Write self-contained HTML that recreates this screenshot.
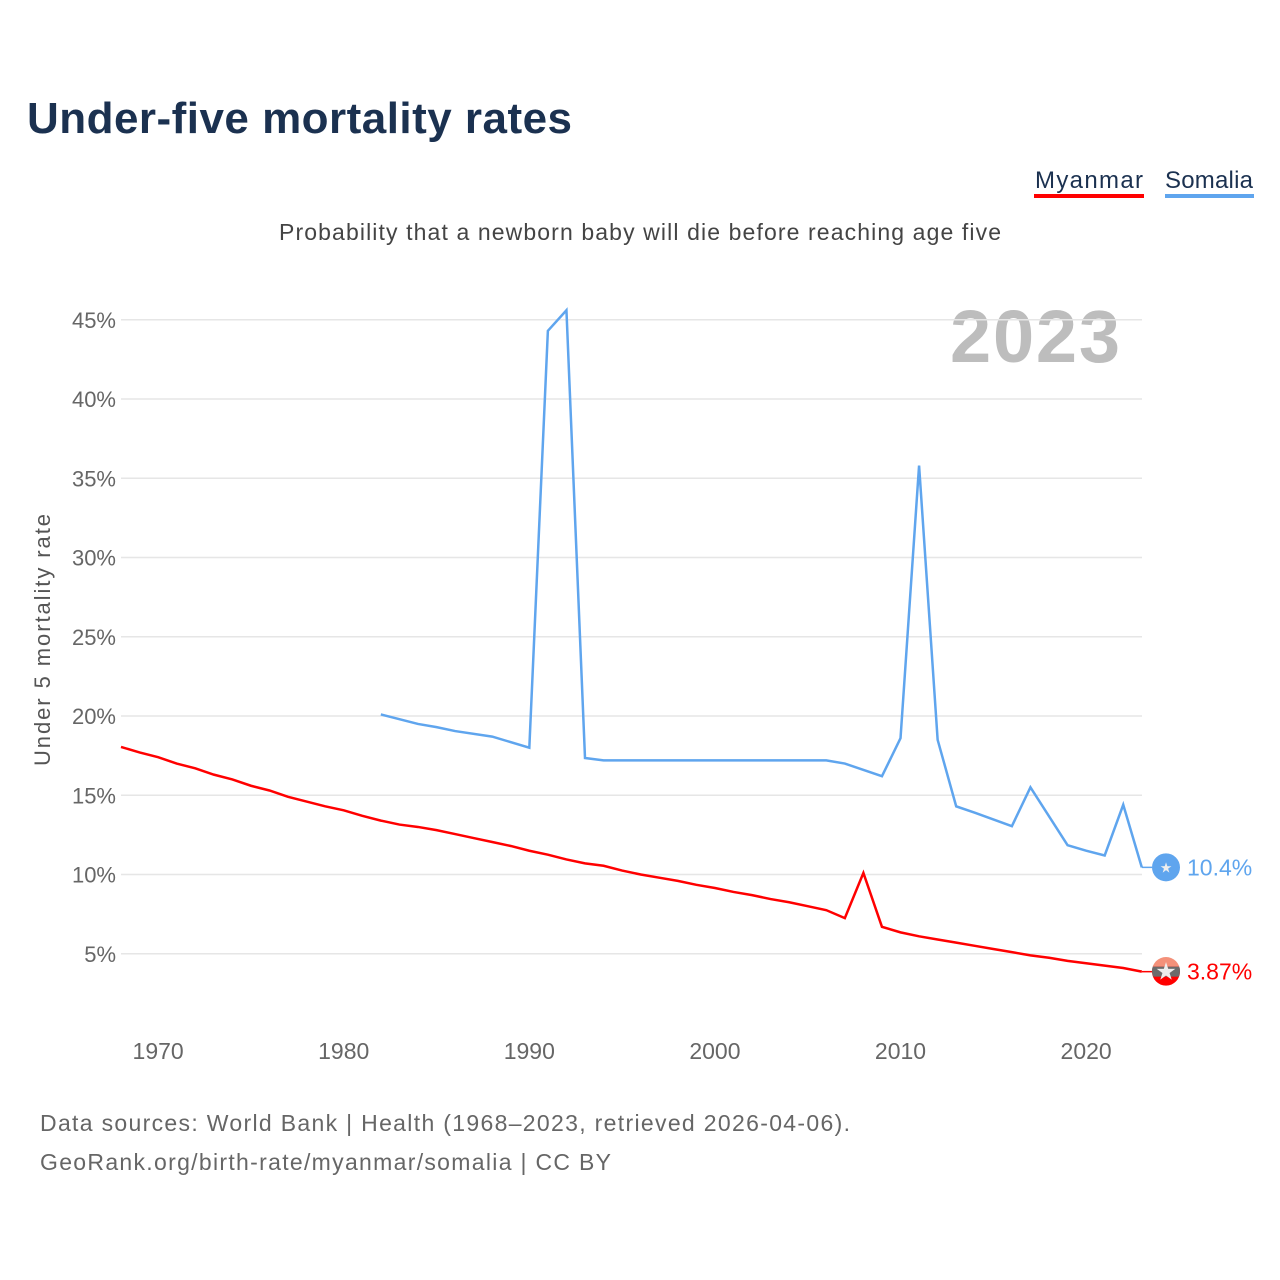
<!DOCTYPE html>
<html><head><meta charset="utf-8"><style>
body{margin:0;background:#fff;width:1280px;height:1280px;overflow:hidden;font-family:"Liberation Sans",sans-serif}
svg{display:block}
</style></head><body>
<svg id="c" width="1280" height="1280">
<defs><clipPath id="mc"><circle cx="1166" cy="971" r="14"/></clipPath></defs>
<text x="27" y="133" font-size="44" font-weight="bold" fill="#1b3150" textLength="545">Under-five mortality rates</text>
<g>
<text x="1035" y="188" font-size="24" fill="#1b3150" textLength="108">Myanmar</text>
<rect x="1034" y="194" width="110" height="4" fill="#ff0000"/>
<text x="1165" y="188" font-size="24" fill="#1b3150" textLength="88">Somalia</text>
<rect x="1165" y="194" width="89" height="4" fill="#5fa5ee"/>
</g>
<text x="279" y="240" font-size="23" fill="#444" textLength="722">Probability that a newborn baby will die before reaching age five</text>
<text x="1120" y="362" font-size="74" font-weight="bold" fill="#bdbdbd" text-anchor="end" textLength="170">2023</text>
<text transform="translate(50,640) rotate(-90)" font-size="22" fill="#555" text-anchor="middle" textLength="252">Under 5 mortality rate</text>
<g id="grid"></g><g id="ylab"></g><g id="xlab"></g><g id="series"></g>
<text x="40" y="1131" font-size="23" fill="#666" textLength="810">Data sources: World Bank | Health (1968–2023, retrieved 2026-04-06).</text>
<text x="40" y="1170" font-size="23" fill="#666" textLength="571">GeoRank.org/birth-rate/myanmar/somalia | CC BY</text>
</svg>
<script>
const yTicks=[5,10,15,20,25,30,35,40,45];
const xTicks=[1970,1980,1990,2000,2010,2020];
const myanmarYears=[1968,1969,1970,1971,1972,1973,1974,1975,1976,1977,1978,1979,1980,1981,1982,1983,1984,1985,1986,1987,1988,1989,1990,1991,1992,1993,1994,1995,1996,1997,1998,1999,2000,2001,2002,2003,2004,2005,2006,2007,2008,2009,2010,2011,2012,2013,2014,2015,2016,2017,2018,2019,2020,2021,2022,2023];
const myanmarValues=[18.05,17.7,17.4,17.0,16.7,16.3,16.0,15.6,15.3,14.9,14.6,14.3,14.05,13.7,13.4,13.15,13.0,12.8,12.55,12.3,12.05,11.8,11.5,11.25,10.95,10.7,10.55,10.25,10.0,9.8,9.6,9.35,9.15,8.9,8.7,8.45,8.25,8.0,7.75,7.25,10.1,6.7,6.35,6.1,5.9,5.7,5.5,5.3,5.1,4.9,4.75,4.55,4.4,4.25,4.1,3.87];
const somaliaYears=[1982,1984,1985,1986,1988,1990,1991,1992,1993,1994,2006,2007,2009,2010,2011,2012,2013,2014,2016,2017,2019,2020,2021,2022,2023];
const somaliaValues=[20.1,19.5,19.3,19.05,18.7,18.0,44.3,45.6,17.35,17.2,17.2,17.0,16.2,18.6,35.8,18.5,14.3,13.9,13.05,15.5,11.85,11.5,11.2,14.4,10.45];
const lastLabels=["3.87%","10.4%"];
const X=y=>121+(y-1968)*18.56;
const Y=v=>1033-v*15.85;
const NS="http://www.w3.org/2000/svg";
function mk(t,a,p){const e=document.createElementNS(NS,t);for(const k in a)e.setAttribute(k,a[k]);p.appendChild(e);return e;}
const grid=document.getElementById('grid'),yl=document.getElementById('ylab'),xl=document.getElementById('xlab'),se=document.getElementById('series');
yTicks.forEach(v=>{
 const l=mk('line',{x1:121,x2:1142,y1:Y(v),y2:Y(v),stroke:'#e6e6e6','stroke-width':1.5},grid);
 
 
 const t=mk('text',{x:116,y:Y(v)+8,'font-size':22,fill:'#666','text-anchor':'end'},yl);t.textContent=v+'%';
 
 
});
xTicks.forEach(v=>{
 const t=mk('text',{x:X(v),y:1059,'font-size':23,fill:'#666','text-anchor':'middle'},xl);t.textContent=v;
 
 
});
function line(ys,vs,col,name){
 const p=mk('polyline',{points:ys.map((y,i)=>X(y)+','+Y(vs[i])).join(' '),fill:'none',stroke:col,'stroke-width':2.5,'stroke-linejoin':'miter'},se);
 
 
}
line(myanmarYears,myanmarValues,'#ff0000','myanmar');
line(somaliaYears,somaliaValues,'#5fa5ee','somalia');
function end(ys,vs,col,name,lab){
 const yy=Y(vs[vs.length-1]);
 mk('line',{x1:X(ys[ys.length-1]),x2:1152,y1:yy,y2:yy,stroke:col,'stroke-width':1.5},se);
 const c=mk('circle',{cx:1166,cy:yy,r:14,fill:col},se);
 
 
 if(name=='myanmar'){
  const g=mk('g',{'clip-path':'url(#mc)'},se);
  mk('rect',{x:1150,y:yy-15,width:32,height:10,fill:'#f4917a'},g);
  mk('rect',{x:1150,y:yy-5,width:32,height:10,fill:'#6b6b6b'},g);
 }
 mk('text',{x:1166,y:yy+(name=='myanmar'?8:5),'font-size':name=='myanmar'?24:14,fill:'#eee','text-anchor':'middle'},se).textContent='★';
 const t=mk('text',{x:1187,y:yy+8,'font-size':23,fill:col},se);t.textContent=lab;
 
 
}
end(myanmarYears,myanmarValues,'#ff0000','myanmar',lastLabels[0]);
end(somaliaYears,somaliaValues,'#5fa5ee','somalia',lastLabels[1]);
</script>
</body></html>
